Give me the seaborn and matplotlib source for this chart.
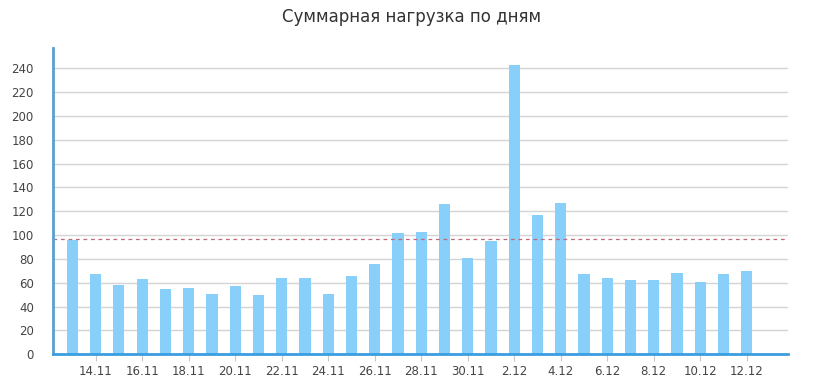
import matplotlib
matplotlib.use("Agg")
import matplotlib.pyplot as plt
import seaborn as sns
import pandas as pd

dates = ["13.11", "14.11", "15.11", "16.11", "17.11", "18.11", "19.11", "20.11",
         "21.11", "22.11", "23.11", "24.11", "25.11", "26.11", "27.11", "28.11",
         "29.11", "30.11", "1.12", "2.12", "3.12", "4.12", "5.12", "6.12",
         "7.12", "8.12", "9.12", "10.12", "11.12", "12.12"]
load = [96, 67, 58, 63, 55, 56, 51, 57, 50, 64, 64, 51, 66, 76, 102, 103,
        126, 81, 95, 243, 117, 127, 67, 64, 62, 62, 68, 61, 67, 70]
norm_level = 96.5
title = "Суммарная нагрузка по дням"

sns.set_theme(style="white")
plt.rcParams['font.family'] = ['DejaVu Sans']

df = pd.DataFrame({"date": dates, "load": load})

fig = plt.figure(figsize=(8.24, 3.84), dpi=100)
ax = fig.add_axes([0.0647, 0.0773, 0.8916, 0.7977])

sns.barplot(data=df, x="date", y="load", color="#88cffa", saturation=1,
            width=0.48, linewidth=0, ax=ax, zorder=3)

ax.set_ylim(0, 257)
ax.set_xlim(-0.82, 30.77)
ax.set_yticks(range(0, 241, 20))
ax.yaxis.grid(True, color="#d4d4d4", linewidth=1, zorder=0)
ax.set_axisbelow(True)

ax.axhline(norm_level, color="#c06878", linewidth=0.9, linestyle=(0, (3, 3)), zorder=4)

ax.set_xticks(range(1, len(dates), 2))
ax.set_xticklabels(dates[1::2])
ax.tick_params(axis="x", length=5, width=0.8, color="#c8c8c8", labelsize=8.5,
               labelcolor="#444444", pad=3, bottom=True)
ax.tick_params(axis="y", length=0, labelsize=8.5, labelcolor="#444444", pad=14)
for lab in ax.get_yticklabels():
    lab.set_horizontalalignment("right")

ax.set_xlabel("")
ax.set_ylabel("")
ax.spines["top"].set_visible(False)
ax.spines["right"].set_visible(False)
ax.spines["left"].set_color("#5a9fcf")
ax.spines["left"].set_linewidth(2)
ax.spines["bottom"].set_color("#3a9ee0")
ax.spines["bottom"].set_linewidth(2)
ax.spines["left"].set_zorder(5)
ax.spines["bottom"].set_zorder(5)

fig.text(0.5, 0.955, title, ha="center", va="center", fontsize=12, color="#333333")

fig.savefig("out.png", dpi=100, facecolor="white")
